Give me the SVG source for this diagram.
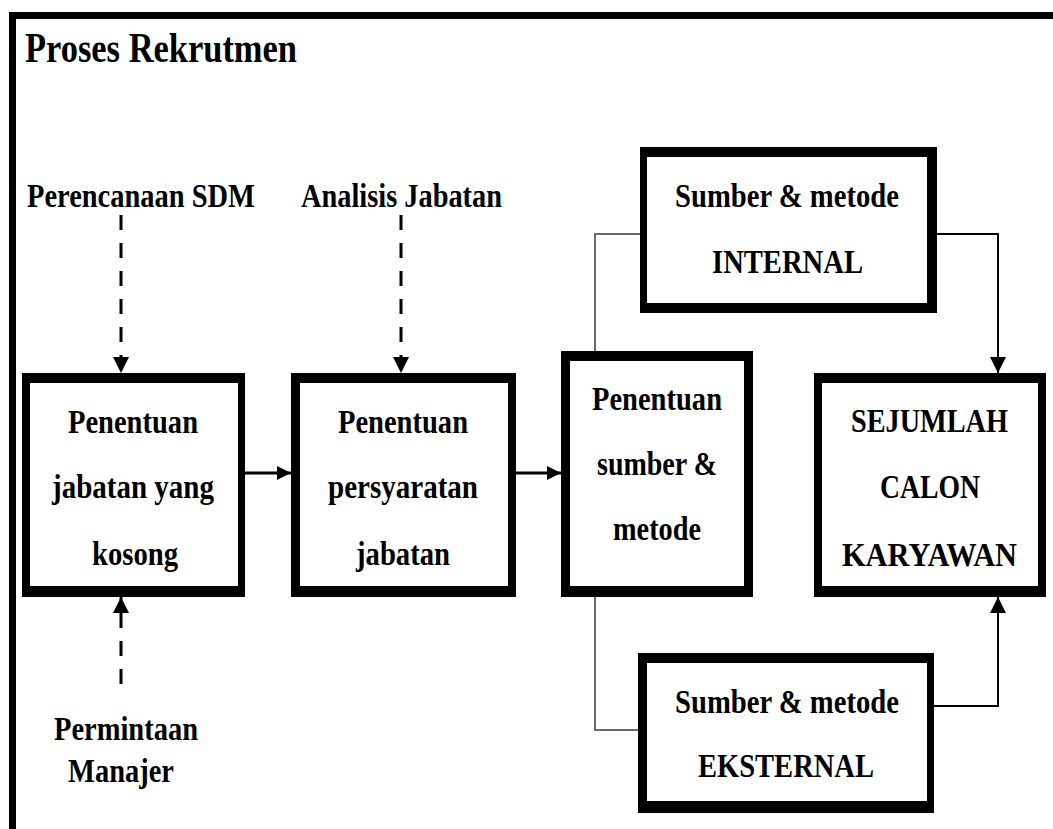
<svg xmlns="http://www.w3.org/2000/svg" width="1053" height="829" viewBox="0 0 1053 829">
<style>
text{font-family:"Liberation Serif","Times New Roman",serif;font-weight:bold;fill:#000;}
.t{font-size:33px;}
.l{font-size:34px;}
.box{fill:#000;fill-rule:evenodd;}
.dash{stroke:#000;stroke-width:3;stroke-dasharray:15 13;fill:none;}
.solid{stroke:#000;stroke-width:3;fill:none;}
.thin{stroke:#000;stroke-width:2;fill:none;}
.gray{stroke:#6a6a6a;stroke-width:2;fill:none;}
</style>
<defs>
<marker id="ah" markerUnits="userSpaceOnUse" viewBox="0 0 16 16" markerWidth="16" markerHeight="16" refX="16" refY="8" orient="auto">
<path d="M0,0 L16,8 L0,16 z" fill="#000"/>
</marker>
<marker id="ahs" markerUnits="userSpaceOnUse" viewBox="0 0 14 14" markerWidth="14" markerHeight="14" refX="14" refY="7" orient="auto">
<path d="M0,0 L14,7 L0,14 z" fill="#000"/>
</marker>
</defs>
<rect width="1053" height="829" fill="#fff"/>
<g id="frame">
<rect x="9" y="12" width="1044" height="7" fill="#000"/>
<rect x="9" y="12" width="7" height="817" fill="#000"/>
</g>
<text id="title" x="25" y="62" font-size="42" textLength="272" lengthAdjust="spacingAndGlyphs">Proses Rekrutmen</text>
<g id="connectors">
<line class="dash" x1="121" y1="215" x2="121" y2="373" marker-end="url(#ah)"/>
<line class="dash" x1="401" y1="215" x2="401" y2="373" marker-end="url(#ah)"/>
<line class="dash" x1="121" y1="688" x2="121" y2="597" marker-end="url(#ah)" stroke-dashoffset="-4"/>
<line class="solid" x1="245" y1="473" x2="291" y2="473" marker-end="url(#ahs)"/>
<line class="solid" x1="516" y1="473" x2="561" y2="473" marker-end="url(#ahs)"/>
<polyline class="gray" points="595,351 595,234 640,234"/>
<polyline class="gray" points="595,597 595,730 638,730"/>
<polyline class="thin" points="937,234 998,234 998,373" marker-end="url(#ah)"/>
<polyline class="thin" points="934,706 998,706 998,597" marker-end="url(#ah)"/>
</g>
<g id="label-perencanaan"><text class="l" x="27" y="207" textLength="228" lengthAdjust="spacingAndGlyphs">Perencanaan SDM</text></g>
<g id="label-analisis"><text class="l" x="301" y="207" textLength="201" lengthAdjust="spacingAndGlyphs">Analisis Jabatan</text></g>
<g id="label-permintaan">
<text class="l" x="54" y="740" textLength="144" lengthAdjust="spacingAndGlyphs">Permintaan</text>
<text class="l" x="68" y="782" textLength="106" lengthAdjust="spacingAndGlyphs">Manajer</text>
</g>
<g id="node-jabatan-kosong">
<path class="box" d="M22,373 H245 V597 H22 Z M30,383 V586 H238 V383 Z"/>
<text class="t" x="68" y="433" textLength="130" lengthAdjust="spacingAndGlyphs">Penentuan</text>
<text class="t" x="52" y="498" textLength="162" lengthAdjust="spacingAndGlyphs">jabatan yang</text>
<text class="t" x="92" y="565" textLength="86" lengthAdjust="spacingAndGlyphs">kosong</text>
</g>
<g id="node-persyaratan">
<path class="box" d="M291,373 H516 V597 H291 Z M300,383 V586 H508 V383 Z"/>
<text class="t" x="338" y="433" textLength="130" lengthAdjust="spacingAndGlyphs">Penentuan</text>
<text class="t" x="328" y="498" textLength="150" lengthAdjust="spacingAndGlyphs">persyaratan</text>
<text class="t" x="356" y="565" textLength="94" lengthAdjust="spacingAndGlyphs">jabatan</text>
</g>
<g id="node-sumber-metode">
<path class="box" d="M561,351 H753 V597 H561 Z M570,361 V586 H744 V361 Z"/>
<text class="t" x="592" y="410" textLength="130" lengthAdjust="spacingAndGlyphs">Penentuan</text>
<text class="t" x="597" y="475" textLength="120" lengthAdjust="spacingAndGlyphs">sumber &amp;</text>
<text class="t" x="613" y="540" textLength="88" lengthAdjust="spacingAndGlyphs">metode</text>
</g>
<g id="node-internal">
<path class="box" d="M640,147 H937 V313 H640 Z M647,157 V303 H927 V157 Z"/>
<text class="t" x="675" y="207" textLength="224" lengthAdjust="spacingAndGlyphs">Sumber &amp; metode</text>
<text class="t" x="712" y="273" textLength="151" lengthAdjust="spacingAndGlyphs">INTERNAL</text>
</g>
<g id="node-eksternal">
<path class="box" d="M638,653 H934 V813 H638 Z M647,663 V801 H927 V663 Z"/>
<text class="t" x="675" y="713" textLength="224" lengthAdjust="spacingAndGlyphs">Sumber &amp; metode</text>
<text class="t" x="698" y="777" textLength="176" lengthAdjust="spacingAndGlyphs">EKSTERNAL</text>
</g>
<g id="node-calon">
<path class="box" d="M814,373 H1046 V597 H814 Z M822,383 V586 H1038 V383 Z"/>
<text class="t" x="851" y="432" textLength="157" lengthAdjust="spacingAndGlyphs">SEJUMLAH</text>
<text class="t" x="880" y="498" textLength="100" lengthAdjust="spacingAndGlyphs">CALON</text>
<text class="t" x="842" y="566" textLength="175" lengthAdjust="spacingAndGlyphs">KARYAWAN</text>
</g>
</svg>
